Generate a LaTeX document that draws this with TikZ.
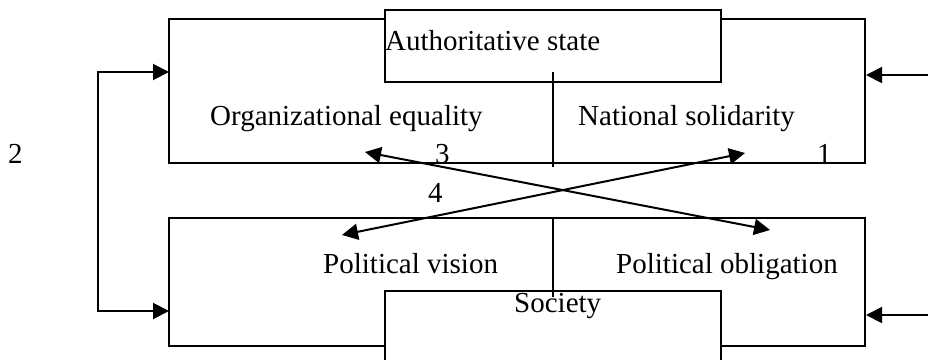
\documentclass[tikz,border=0pt]{standalone}
\usepackage{fontspec}
\setmainfont{Liberation Serif}
\usetikzlibrary{arrows.meta}
\begin{document}
\begin{tikzpicture}
[x=1pt,y=-1pt,
 boxline/.style={draw,line width=2pt,inner sep=0pt},
 plainline/.style={line width=2pt},
 linkline/.style={line width=2pt,{Triangle[length=16pt,width=16pt]}-{Triangle[length=16pt,width=16pt]}},
 feedline/.style={line width=2pt,-{Triangle[length=16pt,width=16pt]}},
 lbl/.style={anchor=base west,inner sep=0pt,font=\fontsize{29}{34}\selectfont}]
\useasboundingbox (0,0) rectangle (928,359);
%% the two big boxes and the small ones on them
\node[boxline,minimum width=696pt,minimum height=143.5pt] (state) at (517,90.75) {};
\node[boxline,fill=white,minimum width=336pt,minimum height=72pt] (auth) at (553,46) {};
\node[boxline,minimum width=696pt,minimum height=128pt] (soc) at (517,282) {};
\node[boxline,fill=white,minimum width=336pt,minimum height=80pt] (society) at (553,331) {};
%% the dividers
\draw[plainline] (553,72) -- (553,167);
%% the labels
\node[lbl] (authtext) at (385,50.5) {Authoritative state};
\node[lbl] (equality) at (210,125) {Organizational equality};
\node[lbl] (solidarity) at (578,125) {National solidarity};
\node[lbl] (vision) at (323,273) {Political vision};
\node[lbl] (obligation) at (616,273) {Political obligation};
\node[lbl] (soctext) at (514,312) {Society};
\draw[plainline] (553,218) -- (553,297);
\foreach \name/\num/\x/\y in {two/2/8/163, three/3/435/163, one/1/817/163, four/4/428/202}
  \node[lbl] (\name) at (\x,\y) {\num};
%% the crossing links
\coordinate (eqend) at (365,152);
\coordinate (obend) at (770,230);
\coordinate (soend) at (745,153);
\coordinate (viend) at (342,235);
\draw[linkline] (eqend) -- (obend);
\draw[linkline] (soend) -- (viend);
%% the feedback on the left and the inputs on the right
\coordinate (lefttop) at (169,72);
\coordinate (leftbot) at (169,311);
\draw[linkline] (lefttop) -- ++(-71,0) |- (leftbot);
\coordinate (righttop) at (928,75);
\coordinate (rightbot) at (928,315);
\draw[feedline] (righttop) -- (state.east |- righttop);
\draw[feedline] (rightbot) -- (soc.east |- rightbot);
\end{tikzpicture}
\end{document}
